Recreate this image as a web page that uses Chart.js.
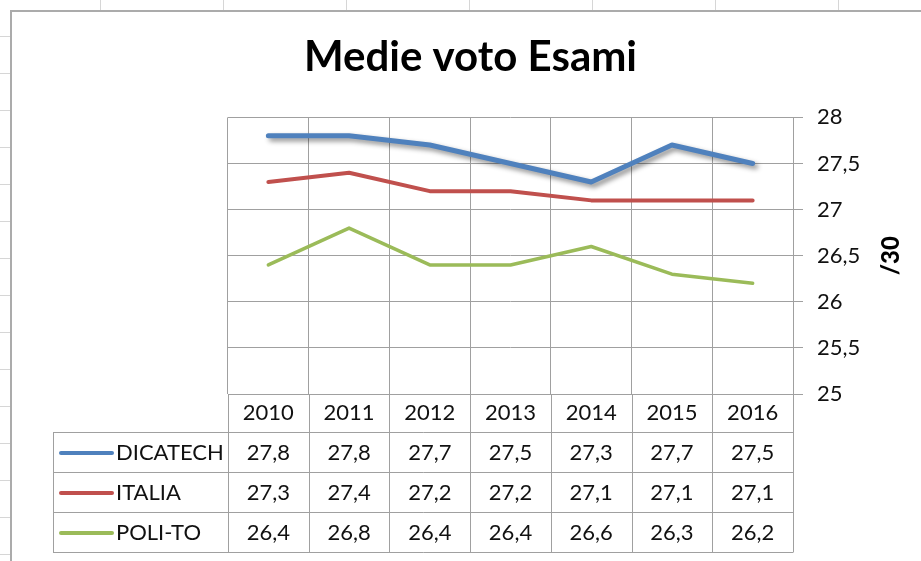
<!DOCTYPE html>
<html><head><meta charset="utf-8">
<script src="https://cdn.jsdelivr.net/npm/chart.js@4"></script>
<style>
html,body{margin:0;padding:0;background:#fff;}
#wrap{position:relative;width:921px;height:561px;overflow:hidden;background:#fff;}
.h{position:absolute;left:0;width:11px;height:1px;background:#d6d6d6;}
.v{position:absolute;top:0;width:1px;height:11px;background:#d6d6d6;}
#frame{position:absolute;left:10px;top:10px;width:940px;height:600px;border:2px solid #ababab;background:#fff;}
canvas{position:absolute;left:0;top:0;}
</style></head>
<body><div id="wrap"><div id="sheet"></div><div id="frame"></div><canvas id="c" width="921" height="561"></canvas></div>
<script>
// ---- data ----
const years = ['2010','2011','2012','2013','2014','2015','2016'];
const dicatech = [27.8, 27.8, 27.7, 27.5, 27.3, 27.7, 27.5];
const italia   = [27.3, 27.4, 27.2, 27.2, 27.1, 27.1, 27.1];
const polito   = [26.4, 26.8, 26.4, 26.4, 26.6, 26.3, 26.2];
const seriesNames = ['DICATECH', 'ITALIA', 'POLI-TO'];
const yTicks = [25, 25.5, 26, 26.5, 27, 27.5, 28];
const chartTitle = 'Medie voto Esami';
const yTitle = '/30';

// spreadsheet background lines (decoration)
(function(){
  const s = document.getElementById('sheet');
  for (let y = 36; y < 561; y += 37) { const d = document.createElement('div'); d.className='h'; d.style.top=y+'px'; s.appendChild(d); }
  for (let x = 100; x < 921; x += 123) { const d = document.createElement('div'); d.className='v'; d.style.left=x+'px'; s.appendChild(d); }
})();

const FONT = 'Lato';
const fmt = v => String(v).replace('.', ',');
const colors = ['#4F81BD', '#C0504D', '#9BBB59'];

const tablePlugin = {
  id: 'dataTable',
  beforeDatasetDraw(chart, args) {
    if (args.index === 0) {
      const ctx = chart.ctx;
      ctx.save();
      ctx.shadowColor = 'rgba(0,0,0,0.45)';
      ctx.shadowBlur = 5;
      ctx.shadowOffsetX = 3;
      ctx.shadowOffsetY = 3;
    }
  },
  afterDatasetDraw(chart, args) {
    if (args.index === 0) chart.ctx.restore();
  },
  afterDraw(chart) {
    const ctx = chart.ctx, x = chart.scales.x, area = chart.chartArea;
    const n = years.length;
    const band = (x.getPixelForValue(n - 1) - x.getPixelForValue(0)) / (n - 1);
    const top = area.bottom, headerH = 38, rowH = 40, legendLeft = 53;
    const rowsTop = top + headerH;
    const bottom = rowsTop + rowH * seriesNames.length;
    const px = v => Math.round(v) + 0.5;
    ctx.save();
    ctx.strokeStyle = '#a0a0a0';
    ctx.lineWidth = 1;
    ctx.beginPath();
    for (let i = 0; i <= n; i++) {
      const bx = px(x.getPixelForValue(0) - band / 2 + i * band);
      ctx.moveTo(bx, top); ctx.lineTo(bx, bottom);
    }
    ctx.moveTo(px(legendLeft), rowsTop); ctx.lineTo(px(legendLeft), bottom);
    for (let k = 0; k <= seriesNames.length; k++) {
      const yy = px(rowsTop + k * rowH);
      ctx.moveTo(legendLeft, yy); ctx.lineTo(px(area.right), yy);
    }
    ctx.stroke();

    const ds = chart.data.datasets;
    ctx.textBaseline = 'middle';
    ctx.font = '22px ' + FONT;
    ctx.fillStyle = '#111';
    seriesNames.forEach((name, r) => {
      const cy = rowsTop + r * rowH + rowH / 2 + 1;
      ctx.save();
      ctx.strokeStyle = ds[r].borderColor;
      ctx.lineWidth = 4;
      ctx.lineCap = 'round';
      ctx.beginPath();
      ctx.moveTo(legendLeft + 8, cy); ctx.lineTo(legendLeft + 59, cy);
      ctx.stroke();
      ctx.restore();
      ctx.textAlign = 'left';
      ctx.fillText(name, legendLeft + 63, cy);
      ctx.textAlign = 'center';
      ds[r].data.forEach((v, i) => {
        ctx.fillText(fmt(v), x.getPixelForValue(i), cy);
      });
    });

    // rotated y-axis title
    const y = chart.scales.y;
    ctx.save();
    ctx.translate(891, (y.top + y.bottom) / 2);
    ctx.rotate(-Math.PI / 2);
    ctx.font = '900 24px ' + FONT;
    ctx.fillStyle = '#000';
    ctx.textAlign = 'center';
    ctx.textBaseline = 'middle';
    ctx.fillText(yTitle, 0, 0);
    ctx.restore();
    ctx.restore();
  }
};

function build() {
  new Chart(document.getElementById('c'), {
    type: 'line',
    data: {
      labels: years,
      datasets: [
        { label: seriesNames[0], data: dicatech, borderColor: colors[0], borderWidth: 5 },
        { label: seriesNames[1], data: italia, borderColor: colors[1], borderWidth: 4 },
        { label: seriesNames[2], data: polito, borderColor: colors[2], borderWidth: 3.5 }
      ].map(d => Object.assign(d, { pointRadius: 0, tension: 0, fill: false, yAxisID: 'y', borderCapStyle: 'round', borderJoinStyle: 'round' }))
    },
    options: {
      responsive: false,
      animation: false,
      events: [],
      layout: { padding: { left: 20, right: 0, top: 0, bottom: 0 } },
      plugins: {
        legend: { display: false },
        tooltip: { enabled: false },
        title: {
          display: true, text: chartTitle, color: '#000',
          font: { family: FONT, size: 42, weight: 'bold' },
          padding: { top: 32, bottom: 35 }
        }
      },
      scales: {
        x: {
          offset: true,
          grid: { offset: true, color: '#a0a0a0', drawTicks: false },
          border: { color: '#a0a0a0' },
          ticks: { color: '#111', font: { family: FONT, size: 22 }, padding: 6, maxRotation: 0 },
          afterFit(s) { s.height = 167; }
        },
        y: {
          position: 'right',
          min: yTicks[0], max: yTicks[yTicks.length - 1],
          afterBuildTicks(s) { s.ticks = yTicks.map(v => ({ value: v })); },
          grid: { color: '#a0a0a0', tickLength: 10 },
          border: { color: '#a0a0a0' },
          ticks: { color: '#111', font: { family: FONT, size: 22 }, padding: 14, callback: v => fmt(v) },
          afterFit(s) { s.width = 128; }
        },
        yl: {
          position: 'left', display: true,
          grid: { display: false }, border: { display: false },
          ticks: { display: false },
          afterFit(s) { s.width = 208; }
        }
      }
    },
    plugins: [tablePlugin]
  });
}

Promise.all([
  document.fonts.load('22px Lato'),
  document.fonts.load('bold 42px Lato'),
  document.fonts.load('900 24px Lato')
]).then(build, build);
</script>
</body></html>
